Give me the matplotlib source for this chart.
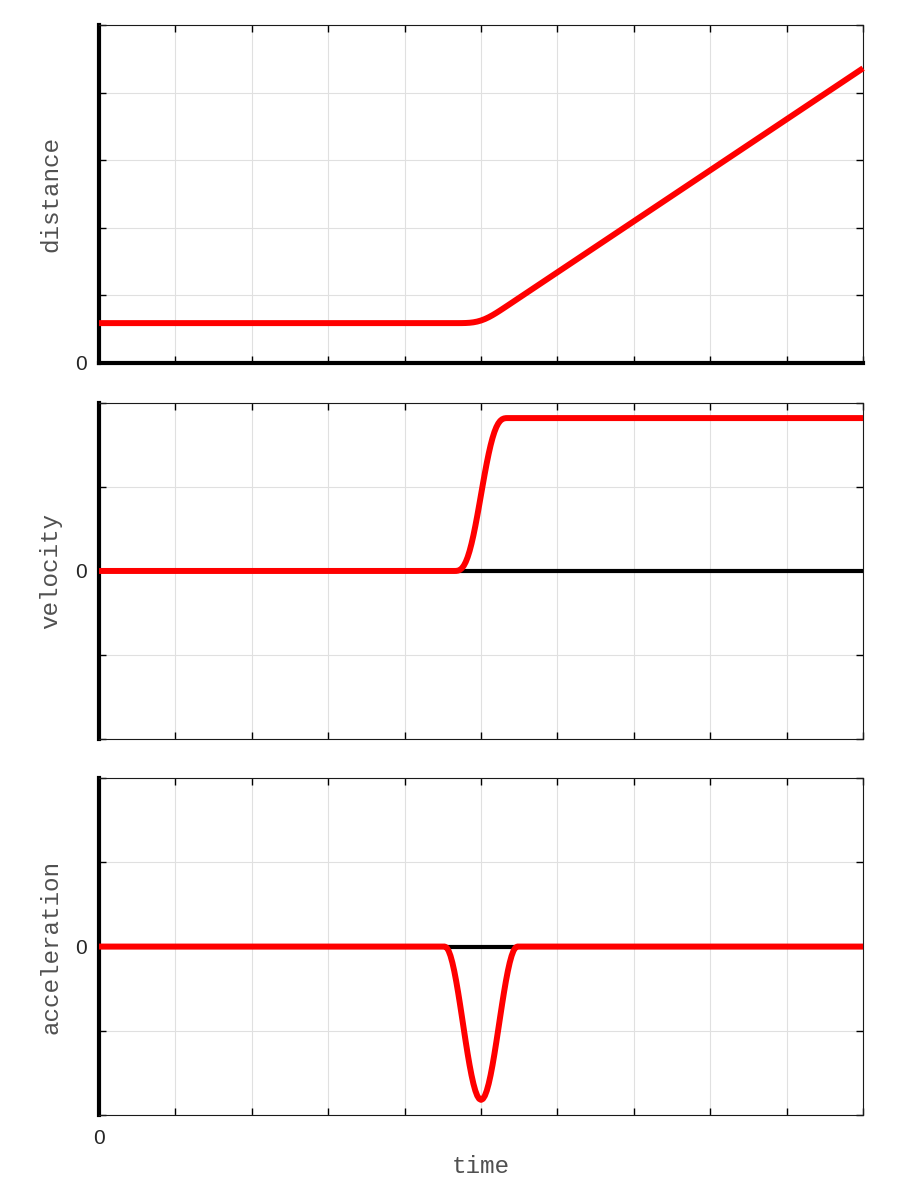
import matplotlib
matplotlib.use("Agg")
import matplotlib.pyplot as plt
import numpy as np

# values
dist_t = [0, 4.65, 4.7, 4.75, 4.8, 4.85, 4.9, 4.95, 5.0, 5.05, 5.1, 5.15,
          5.2, 5.25, 5.3, 5.35, 10]
dist_y = [0.59, 0.59, 0.59, 0.5903, 0.5917, 0.5952, 0.6019, 0.6129, 0.6289,
          0.6503, 0.6767, 0.7074, 0.7413, 0.7773, 0.8144, 0.8518, 4.36]

vel_t = [0, 4.65, 4.675, 4.7, 4.725, 4.75, 4.775, 4.8, 4.825, 4.85, 4.875,
         4.9, 4.925, 4.95, 4.975, 5.0, 5.025, 5.05, 5.075, 5.1, 5.125, 5.15,
         5.175, 5.2, 5.225, 5.25, 5.275, 5.3, 5.325, 5.35, 10]
vel_y = [0, 0, 0.0005, 0.0044, 0.0144, 0.0337, 0.0641, 0.1076, 0.1653,
         0.2375, 0.324, 0.4235, 0.5345, 0.6543, 0.7806, 0.91, 1.0394, 1.1657,
         1.2855, 1.3965, 1.496, 1.5825, 1.6547, 1.7124, 1.7559, 1.7863,
         1.8056, 1.8156, 1.8195, 1.82, 1.82]

acc_t = [0, 4.525, 4.55, 4.575, 4.6, 4.625, 4.65, 4.675, 4.7, 4.725, 4.75,
         4.775, 4.8, 4.825, 4.85, 4.875, 4.9, 4.925, 4.95, 4.975, 5.0,
         5.025, 5.05, 5.075, 5.1, 5.125, 5.15, 5.175, 5.2, 5.225, 5.25,
         5.275, 5.3, 5.325, 5.35, 5.375, 5.4, 5.425, 5.45, 5.475, 10]
acc_y = [0, 0, -0.0124, -0.0493, -0.1097, -0.1919, -0.2937, -0.4123, -0.5445,
         -0.6866, -0.8349, -0.9851, -1.1334, -1.2756, -1.4078, -1.5264,
         -1.6281, -1.7103, -1.7707, -1.8076, -1.82,
         -1.8076, -1.7707, -1.7103, -1.6281, -1.5264, -1.4078, -1.2756,
         -1.1334, -0.9851, -0.8349, -0.6866, -0.5445, -0.4123, -0.2937,
         -0.1919, -0.1097, -0.0493, -0.0124, 0, 0]

RED = "#ff0000"
LABEL_FONT = "Liberation Mono"
TICK_FONT = "Liberation Sans"
TICK_KW = dict(fontsize=15, fontfamily=TICK_FONT, color="#262626")

fig = plt.figure(figsize=(9, 12), dpi=100)

# axes boxes in figure fractions (left, bottom, width, height)
boxes = [
    (0.11, 0.6975, 0.849, 0.2817),
    (0.11, 0.3842, 0.849, 0.28),
    (0.11, 0.0708, 0.849, 0.2808),
]
labels = ["distance", "velocity", "acceleration"]

axes = [fig.add_axes(b) for b in boxes]


def style_axis(ax, ylim, yticks, show_x):
    ax.set_xlim(0, 10)
    ax.set_ylim(*ylim)
    ax.tick_params(direction="in", length=5, width=1, top=True, right=True)
    ax.tick_params(axis="y", pad=9)
    ax.tick_params(axis="x", pad=10)
    ax.set_xticks(np.arange(0, 11, 1))
    ax.set_yticks(yticks)
    ax.set_xticklabels(["0" if (v == 0 and show_x) else "" for v in range(11)],
                       **TICK_KW)
    ax.set_yticklabels(["0" if v == 0 else "" for v in yticks], **TICK_KW)
    ax.grid(True, color="#e0e0e0", linewidth=0.8)
    ax.set_axisbelow(True)
    for s in ax.spines.values():
        s.set_color("#1a1a1a")
        s.set_linewidth(0.8)
    ax.spines["left"].set_linewidth(3)
    ax.spines["left"].set_color("black")


line_kw = dict(color=RED, linewidth=4.3, solid_capstyle="butt",
               solid_joinstyle="round", clip_on=False, zorder=3)

# distance
ax = axes[0]
style_axis(ax, (0, 5), list(range(0, 6)), False)
ax.spines["bottom"].set_linewidth(3)
ax.spines["bottom"].set_color("black")
ax.plot(dist_t, dist_y, **line_kw)

# velocity
ax = axes[1]
style_axis(ax, (-2, 2), [-2, -1, 0, 1, 2], False)
ax.axhline(0, color="black", linewidth=3, zorder=2)
ax.plot(vel_t, vel_y, **line_kw)

# acceleration
ax = axes[2]
style_axis(ax, (-2, 2), [-2, -1, 0, 1, 2], True)
ax.axhline(0, color="black", linewidth=3, zorder=2)
ax.plot(acc_t, acc_y, **line_kw)
ax.set_xlabel("time", fontsize=17.5, fontfamily=LABEL_FONT, color="#505050",
              labelpad=5)

for ax, lab in zip(axes, labels):
    ax.set_ylabel(lab, fontsize=17.5, fontfamily=LABEL_FONT, color="#505050",
                  labelpad=9)

fig.savefig("out.png", dpi=100)
